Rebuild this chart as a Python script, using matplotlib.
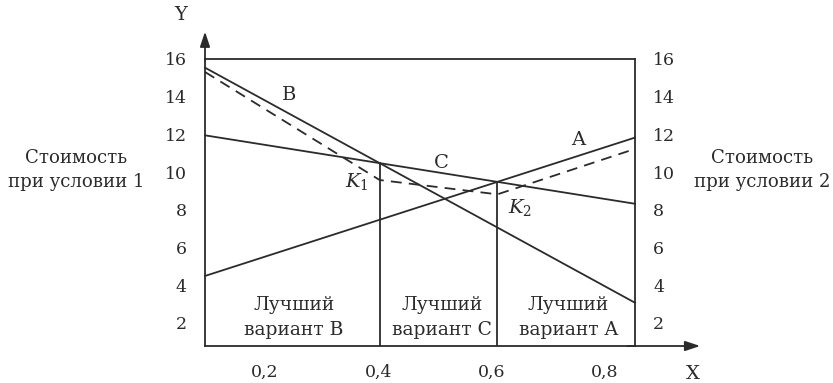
import numpy as np
import matplotlib.pyplot as plt

# --> Data (x = probability, y = cost)
x_edges = [0.094, 0.853]
line_b = [15.54, 3.07]
line_c = [11.95, 8.32]
line_a = [4.49, 11.83]
dashed_y = [15.31, 9.58, 8.82, 11.23]

y_ticks = [2, 4, 6, 8, 10, 12, 14, 16]
x_ticks = [0.2, 0.4, 0.6, 0.8]
x_tick_labels = ["0,2", "0,4", "0,6", "0,8"]
regions = ["Лучший\nвариант B", "Лучший\nвариант C", "Лучший\nвариант A"]
y_bottom = 0.775


def crossing(l1, l2):
    # x where two straight lines over x_edges meet
    k1 = (l1[1] - l1[0]) / (x_edges[1] - x_edges[0])
    k2 = (l2[1] - l2[0]) / (x_edges[1] - x_edges[0])
    dx = (l2[0] - l1[0]) / (k1 - k2)
    x = x_edges[0] + dx
    return x, l1[0] + k1 * dx


plt.rcParams['font.family'] = ['DejaVu Serif']
plt.rcParams['mathtext.fontset'] = 'dejavuserif'
ink = '#2b2b2b'
fs_tick = 12.5
fs_word = 13.5
fs_side = 13.1
fs_mark = 14

fig = plt.figure(figsize=(8.33, 3.83), dpi=100)
ax = fig.add_axes([0.2461, 0.0966, 0.5162, 0.7494])
ax.set_xlim(x_edges[0], x_edges[1])
ax.set_ylim(y_bottom, 16)

for s in ax.spines.values():
    s.set_color(ink)
    s.set_linewidth(1.3)

lw = 1.3
ax.plot(x_edges, line_b, color=ink, lw=lw, clip_on=False)
ax.plot(x_edges, line_c, color=ink, lw=lw, clip_on=False)
ax.plot(x_edges, line_a, color=ink, lw=lw, clip_on=False)

k1 = crossing(line_b, line_c)
k2 = crossing(line_a, line_c)
ax.plot([k1[0], k1[0]], [y_bottom, k1[1]], color=ink, lw=lw)
ax.plot([k2[0], k2[0]], [y_bottom, k2[1]], color=ink, lw=lw)

dashed_x = [x_edges[0], k1[0], k2[0], x_edges[1]]
ax.plot(dashed_x, dashed_y, color=ink, lw=lw, ls=(0, (6, 4)), clip_on=False)

# --> Ticks on both sides
ax.set_yticks(y_ticks)
ax.set_xticks(x_ticks)
ax.set_xticklabels(x_tick_labels)
ax.tick_params(axis='y', length=0, labelsize=fs_tick, labelcolor=ink,
               labelleft=True, labelright=True, pad=13)
ax.tick_params(axis='x', length=0, labelsize=fs_tick, labelcolor=ink, pad=13)

# --> Axis arrows
ax.annotate("", xy=(x_edges[0], 17.45), xytext=(x_edges[0], 15.9),
            arrowprops=dict(arrowstyle='-|>,head_length=0.9,head_width=0.3',
                            color=ink, lw=lw, shrinkA=0, shrinkB=0),
            annotation_clip=False)
ax.annotate("", xy=(0.968, y_bottom), xytext=(0.84, y_bottom),
            arrowprops=dict(arrowstyle='-|>,head_length=0.9,head_width=0.3',
                            color=ink, lw=lw, shrinkA=0, shrinkB=0),
            annotation_clip=False)
ax.text(0.0517, 18.35, "Y", fontsize=fs_mark, color=ink, ha='center', va='center', clip_on=False)
ax.text(0.955, -0.7, "X", fontsize=fs_mark, color=ink, ha='center', va='center', clip_on=False)

# --> Line labels
ax.text(0.242, 14.09, "B", fontsize=fs_mark, color=ink, ha='center', va='center')
ax.text(0.511, 10.48, "C", fontsize=fs_mark, color=ink, ha='center', va='center')
ax.text(0.753, 11.7, "A", fontsize=fs_mark, color=ink, ha='center', va='center')
ax.text(0.362, 9.5, "$K_1$", fontsize=fs_mark, color=ink, ha='center', va='center')
ax.text(0.650, 8.1, "$K_2$", fontsize=fs_mark, color=ink, ha='center', va='center')

# --> Regions
region_x = [0.251, 0.513, 0.735]
for rx, txt in zip(region_x, regions):
    ax.text(rx, 2.29, txt, fontsize=fs_word, color=ink, ha='center', va='center',
            linespacing=1.45)

# --> Side captions
ax.text(-0.134, 10.11, "Стоимость\nпри условии 1", fontsize=fs_side, color=ink,
        ha='center', va='center', linespacing=1.4, clip_on=False)
ax.text(1.077, 10.11, "Стоимость\nпри условии 2", fontsize=fs_side, color=ink,
        ha='center', va='center', linespacing=1.4, clip_on=False)

fig.savefig("out.png", dpi=100)
